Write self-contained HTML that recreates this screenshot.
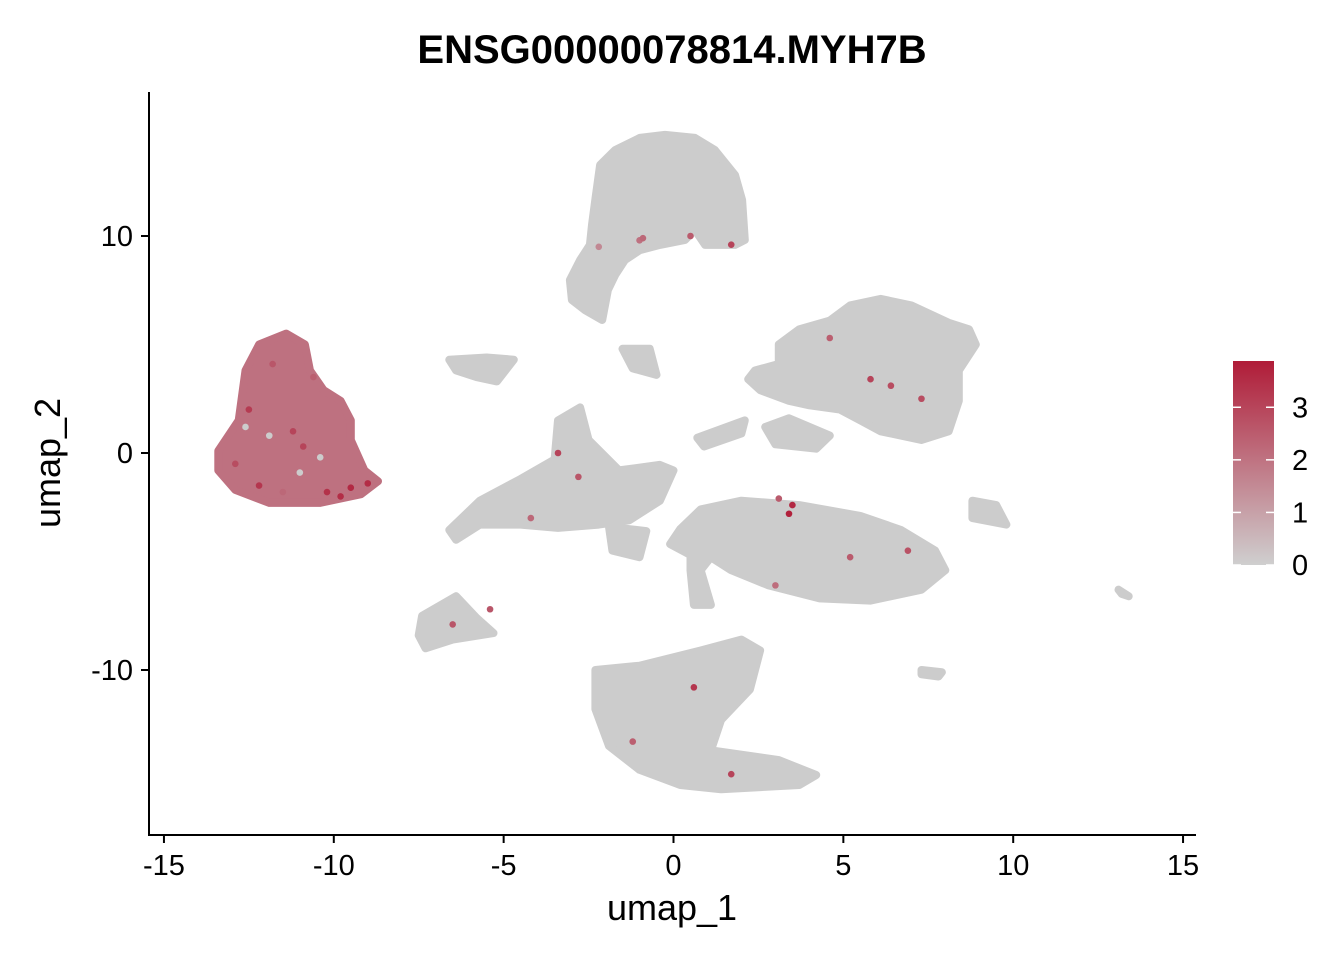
<!DOCTYPE html>
<html><head><meta charset="utf-8"><style>
body{margin:0;background:#fff;}
svg text{font-family:"Liberation Sans",Arial,sans-serif;}
</style></head><body>
<svg id="chart" width="1344" height="960" viewBox="0 0 1344 960">
<defs><linearGradient id="cg" x1="0" y1="1" x2="0" y2="0">
<stop offset="0" stop-color="#cfcfcf"/><stop offset="1" stop-color="#b01c38"/></linearGradient></defs>
<text x="672" y="63" text-anchor="middle" font-size="40" font-weight="bold">ENSG00000078814.MYH7B</text>
<g id="clusters"></g>
<g id="pts"></g>
<g id="axes"></g>
<text x="672" y="920" text-anchor="middle" font-size="36">umap_1</text>
<text transform="translate(60,463) rotate(-90)" text-anchor="middle" font-size="36">umap_2</text>
<g>
<rect x="1233" y="361" width="41" height="204" fill="url(#cg)"/>
<g id="legticks"></g>
</g>
</svg>
<script>
const xTicks=[-15,-10,-5,0,5,10,15];
const yTicks=[10,0,-10];
const legendTicks=[0,1,2,3];
const legendMax=3.88;
const clusterNames=["top","left-red","right-upper","middle-right","left-middle","bottom","small-a","small-b","small-c","small-d","small-e","small-f","small-g","small-h","small-i"];
const clusterValues=[0,2.0,0,0,0,0,0,0,0,0,0,0,0,0,0];
const clusterPolys=[
[[-2.3,11.7],[-2.16,13.27],[-1.72,13.96],[-0.99,14.52],[-0.25,14.66],[0.63,14.52],[1.22,13.96],[1.81,12.81],[2.02,11.66],[2.1,9.82],[1.81,9.59],[0.93,9.59],[0.63,10.28],[0.34,9.82],[-0.4,9.59],[-0.99,9.35],[-1.43,8.89],[-1.72,8.2],[-1.93,7.51],[-2.1,6.13],[-2.61,6.59],[-2.99,7.05],[-3.05,7.97],[-2.75,8.89],[-2.46,9.59],[-2.4,10.51]],
[[-13.4,0.1],[-12.8,1.5],[-12.6,3.8],[-12.2,5.0],[-11.4,5.5],[-10.85,5.0],[-10.7,3.8],[-10.3,2.9],[-9.8,2.4],[-9.5,1.5],[-9.5,0.6],[-9.1,-0.8],[-8.7,-1.3],[-9.2,-1.9],[-10.4,-2.3],[-11.9,-2.3],[-12.9,-1.7],[-13.4,-0.8]],
[[3.1,5.0],[3.7,5.7],[4.6,6.1],[5.2,6.8],[6.1,7.1],[7.0,6.8],[8.1,6.0],[8.7,5.7],[8.9,5.0],[8.4,3.8],[8.4,2.4],[8.1,1.0],[7.3,0.6],[6.1,1.0],[5.5,1.5],[4.9,2.0],[4.0,2.2],[3.4,2.4],[2.55,2.9],[2.2,3.4],[2.4,3.8],[3.1,4.1]],
[[-0.1,-4.2],[0.2,-3.5],[0.8,-2.6],[2.0,-2.2],[3.7,-2.4],[5.5,-2.9],[6.7,-3.55],[7.7,-4.5],[8.0,-5.4],[7.3,-6.3],[5.8,-6.8],[4.3,-6.7],[2.8,-6.1],[1.7,-5.4],[1.1,-4.8],[0.8,-5.4],[1.1,-7.0],[0.6,-7.0],[0.5,-5.4],[0.5,-4.7]],
[[-6.6,-3.55],[-5.7,-2.2],[-4.5,-1.2],[-3.5,-0.3],[-3.4,1.5],[-2.75,2.1],[-2.5,0.6],[-1.6,-0.8],[-0.4,-0.55],[0.0,-0.8],[-0.4,-2.2],[-1.3,-3.1],[-2.2,-3.3],[-3.4,-3.45],[-4.5,-3.3],[-5.7,-3.3],[-6.4,-4.0]],
[[-2.3,-10.0],[-1.0,-9.8],[0.8,-9.1],[2.0,-8.6],[2.55,-9.1],[2.25,-10.9],[1.4,-12.3],[1.1,-13.7],[3.1,-14.15],[4.2,-14.84],[3.7,-15.3],[1.4,-15.5],[0.2,-15.3],[-1.0,-14.6],[-1.9,-13.5],[-2.3,-11.8]],
[[-7.4,-7.5],[-6.4,-6.6],[-5.8,-7.6],[-5.3,-8.3],[-6.5,-8.6],[-7.3,-9.0],[-7.5,-8.4]],
[[-6.6,4.3],[-5.5,4.4],[-4.7,4.3],[-4.9,3.9],[-5.2,3.3],[-5.8,3.5],[-6.4,3.8]],
[[-1.5,4.8],[-0.7,4.8],[-0.5,3.6],[-1.2,3.9]],
[[0.7,0.7],[2.1,1.5],[2.0,0.9],[0.9,0.3]],
[[2.7,1.2],[3.4,1.6],[4.6,0.8],[4.2,0.2],[3.0,0.4]],
[[8.8,-2.2],[9.5,-2.4],[9.8,-3.3],[8.8,-3.0]],
[[13.1,-6.3],[13.4,-6.6],[13.2,-6.5]],
[[7.3,-10.0],[7.9,-10.1],[7.8,-10.3],[7.3,-10.2]],
[[-1.9,-3.4],[-0.8,-3.6],[-1.0,-4.8],[-1.8,-4.5]]
];
const ptX=[-12.5,-11.8,-11.2,-10.6,-12.9,-12.2,-11.5,-10.9,-10.2,-9.5,-9.0,-11.9,-11.0,-12.6,-10.4,-9.8,-1.0,0.5,1.7,-2.2,3.5,3.4,3.1,5.8,6.4,4.6,7.3,-3.4,-2.8,-4.2,-1.2,1.7,0.6,5.2,6.9,-6.5,-5.4,3.0,-0.9];
const ptY=[2.0,4.1,1.0,3.5,-0.5,-1.5,-1.8,0.3,-1.8,-1.6,-1.4,0.8,-0.9,1.2,-0.2,-2.0,9.8,10.0,9.6,9.5,-2.4,-2.8,-2.1,3.4,3.1,5.3,2.5,0.0,-1.1,-3.0,-13.3,-14.8,-10.8,-4.8,-4.5,-7.9,-7.2,-6.1,9.9];
const ptV=[3.2,2.6,3.0,2.4,2.8,3.3,2.2,3.0,3.4,3.6,3.5,0,0,0,0,3.5,2.0,2.5,3.0,1.5,3.6,3.8,2.5,3.0,2.8,2.4,2.8,3.0,2.6,2.2,2.4,3.0,3.3,2.5,2.7,2.6,2.6,2.1,2.2];

const X=v=>673.5+v*33.97, Y=v=>453-v*21.7;
function col(v){const t=Math.max(0,Math.min(1,v/legendMax));
 const a=[204,204,204],b=[176,28,56];
 return `rgb(${a.map((c,i)=>Math.round(c+(b[i]-c)*t)).join(',')})`;}
const NS="http://www.w3.org/2000/svg";
const cg=document.getElementById('clusters');
clusterPolys.forEach((p,i)=>{
 const e=document.createElementNS(NS,'polygon');
 e.setAttribute('points',p.map(q=>X(q[0]).toFixed(1)+','+Y(q[1]).toFixed(1)).join(' '));
 e.setAttribute('fill',col(clusterValues[i]));
 e.setAttribute('stroke',col(clusterValues[i]));
 e.setAttribute('stroke-width','8');
 e.setAttribute('stroke-linejoin','round');
 
 
 cg.appendChild(e);
});
const pg=document.getElementById('pts');
ptX.forEach((x,i)=>{
 const c=document.createElementNS(NS,'circle');
 c.setAttribute('cx',X(x));c.setAttribute('cy',Y(ptY[i]));c.setAttribute('r',3.3);
 c.setAttribute('fill',col(ptV[i]));
 
 
 pg.appendChild(c);
});
const ax=document.getElementById('axes');
function add(tag,attrs,txt){const e=document.createElementNS(NS,tag);for(const k in attrs)e.setAttribute(k,attrs[k]);if(txt!==undefined)e.textContent=txt;ax.appendChild(e);return e;}
const xl=add('line',{x1:149,y1:835,x2:1196,y2:835,stroke:'#000','stroke-width':2});


const yl=add('line',{x1:149,y1:92,x2:149,y2:836,stroke:'#000','stroke-width':2});


xTicks.forEach(t=>{
 add('line',{x1:X(t),y1:835,x2:X(t),y2:843,stroke:'#000','stroke-width':2});
 const l=add('text',{x:X(t),y:875,'text-anchor':'middle','font-size':29},String(t));
 
 
});
yTicks.forEach(t=>{
 add('line',{x1:141,y1:Y(t),x2:149,y2:Y(t),stroke:'#000','stroke-width':2});
 const l=add('text',{x:133,y:Y(t)+10,'text-anchor':'end','font-size':29},String(t));
 
 
});
const lg=document.getElementById('legticks');
legendTicks.forEach(t=>{
 const y=565-t*(204/legendMax);
 [[1233,1241],[1266,1274]].forEach(s=>{const l=document.createElementNS(NS,'line');
  l.setAttribute('x1',s[0]);l.setAttribute('x2',s[1]);l.setAttribute('y1',y);l.setAttribute('y2',y);
  l.setAttribute('stroke','#fff');l.setAttribute('stroke-width','1.5');lg.appendChild(l);});
 const tx=document.createElementNS(NS,'text');
 tx.setAttribute('x',1292);tx.setAttribute('y',y+10);tx.setAttribute('font-size',29);tx.textContent=t;
 
 
 lg.appendChild(tx);
});
</script>
</body></html>
